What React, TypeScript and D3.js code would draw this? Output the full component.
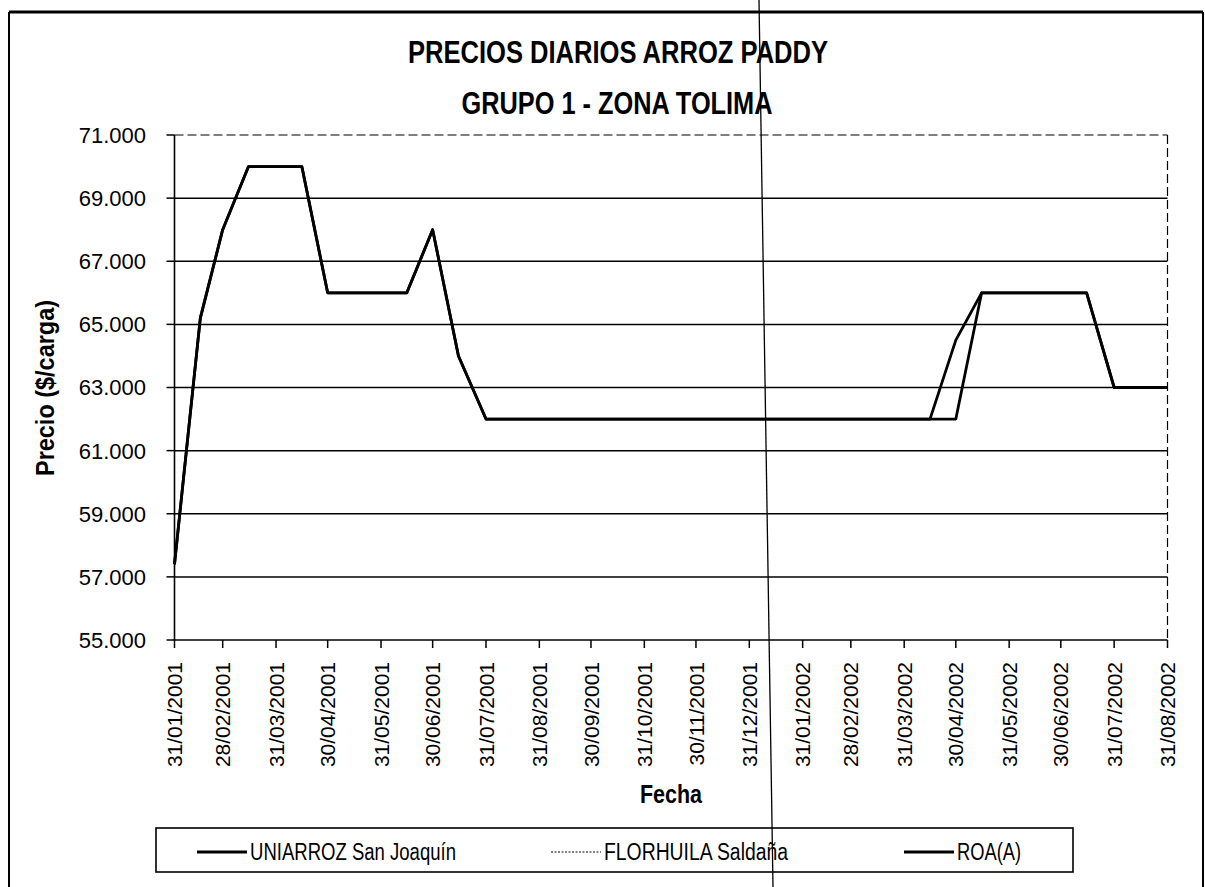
import React from "react";
import * as d3 from "d3";

// ---------- data ----------
const TITLE_LINE_1 = "PRECIOS DIARIOS ARROZ PADDY";
const TITLE_LINE_2 = "GRUPO 1 - ZONA TOLIMA";
const X_TITLE = "Fecha";
const Y_TITLE = "Precio ($/carga)";

const obsDates = [
  "31/01/2001", "15/02/2001", "28/02/2001", "15/03/2001", "15/04/2001",
  "30/04/2001", "15/06/2001", "30/06/2001", "15/07/2001", "31/07/2001",
  "15/04/2002", "30/04/2002", "15/05/2002", "15/07/2002", "31/07/2002",
  "31/08/2002",
];
const uniarroz = [57400, 65200, 68000, 70000, 70000, 66000, 66000, 68000, 64000, 62000, 62000, 64500, 66000, 66000, 63000, 63000];
const florhuila = [57400, 65200, 68000, 70000, 70000, 66000, 66000, 68000, 64000, 62000, 62000, 62000, 66000, 66000, 63000, 63000];
const roa = [57400, 65200, 68000, 70000, 70000, 66000, 66000, 68000, 64000, 62000, 62000, 62000, 66000, 66000, 63000, 63000];

const seriesNames = ["UNIARROZ San Joaquín", "FLORHUILA Saldaña", "ROA(A)"];

const xTickLabels = [
  "31/01/2001", "28/02/2001", "31/03/2001", "30/04/2001", "31/05/2001",
  "30/06/2001", "31/07/2001", "31/08/2001", "30/09/2001", "31/10/2001",
  "30/11/2001", "31/12/2001", "31/01/2002", "28/02/2002", "31/03/2002",
  "30/04/2002", "31/05/2002", "30/06/2002", "31/07/2002", "31/08/2002",
];
const yTicks = [55000, 57000, 59000, 61000, 63000, 65000, 67000, 69000, 71000];

// ---------- layout ----------
const W = 1205;
const H = 887;
const PL = 174.5, PR = 1167.5, PT = 135, PB = 640;

const parse = d3.timeParse("%d/%m/%Y");
const locale = d3.formatLocale({ decimal: ",", thousands: ".", grouping: [3], currency: ["$", ""] });
const fmt = locale.format(",d");

export default function App() {
  const x = d3
    .scaleTime()
    .domain([parse(xTickLabels[0]) as Date, parse(xTickLabels[xTickLabels.length - 1]) as Date])
    .range([PL, PR]);
  const y = d3.scaleLinear().domain([55000, 71000]).range([PB, PT]);

  const line = d3
    .line<[Date, number]>()
    .x((d) => x(d[0]))
    .y((d) => y(d[1]));

  const mk = (vals: number[]) => obsDates.map((s, i) => [parse(s) as Date, vals[i]] as [Date, number]);

  const series = [
    { name: seriesNames[0], values: uniarroz, width: 2.8, dash: undefined as string | undefined },
    { name: seriesNames[1], values: florhuila, width: 1.2, dash: "2 1.5" },
    { name: seriesNames[2], values: roa, width: 2.8, dash: undefined as string | undefined },
  ];
  const drawOrder = [1, 2, 0];

  const legendX = [197, 551, 904];
  const legendTextLen = [206, 184, 64];
  const legendLineLen = 50;
  const legendY = 852;

  const sans = "'Liberation Sans', Arial, Helvetica, sans-serif";
  const narrow = "'Liberation Sans Narrow', 'Arial Narrow', 'Liberation Sans', Arial, sans-serif";

  return (
    <svg
      width={W}
      height={H}
      viewBox={`0 0 ${W} ${H}`}
      style={{ position: "absolute", left: 0, top: 0, background: "#fff" }}
    >
      <rect x={0} y={0} width={W} height={H} fill="#fff" />

      {/* chart frame */}
      <line x1={9} y1={12} x2={1203} y2={12} stroke="#000" strokeWidth={2.8} />
      <line x1={9} y1={12} x2={9} y2={H} stroke="#000" strokeWidth={2} />
      <line x1={1203} y1={12} x2={1203} y2={H} stroke="#000" strokeWidth={2} />

      {/* titles */}
      <text x={618} y={63} textAnchor="middle" fontFamily={narrow} fontWeight="bold" fontSize={31}
        textLength={420} lengthAdjust="spacingAndGlyphs">{TITLE_LINE_1}</text>
      <text x={617} y={114} textAnchor="middle" fontFamily={narrow} fontWeight="bold" fontSize={31}
        textLength={311} lengthAdjust="spacingAndGlyphs">{TITLE_LINE_2}</text>

      {/* gridlines */}
      {yTicks.filter((t) => t !== 55000 && t !== 71000).map((t) => (
        <line key={"g" + t} x1={PL} x2={PR} y1={y(t)} y2={y(t)} stroke="#000" strokeWidth={1.5} />
      ))}
      {/* plot area border (top & right) */}
      <line x1={PL} x2={PR} y1={y(71000)} y2={y(71000)} stroke="#000" strokeWidth={1.2} strokeDasharray="9 4" />
      <line x1={PR} x2={PR} y1={PT} y2={PB} stroke="#000" strokeWidth={1.2} strokeDasharray="9 4" />

      {/* y axis */}
      <line x1={PL} x2={PL} y1={PT} y2={PB} stroke="#000" strokeWidth={1.6} />
      {yTicks.map((t) => (
        <g key={"yt" + t}>
          <line x1={PL - 8} x2={PL} y1={y(t)} y2={y(t)} stroke="#000" strokeWidth={1.5} />
          <text x={146} y={y(t)} dy="0.36em" textAnchor="end" fontFamily={sans} fontSize={22}>
            {fmt(t)}
          </text>
        </g>
      ))}

      {/* x axis */}
      <line x1={PL} x2={PR} y1={PB} y2={PB} stroke="#000" strokeWidth={1.6} />
      {xTickLabels.map((s) => {
        const xp = x(parse(s) as Date);
        return (
          <g key={"xt" + s}>
            <line x1={xp} x2={xp} y1={PB} y2={PB + 8} stroke="#000" strokeWidth={1.5} />
            <text
              transform={`translate(${xp},${662}) rotate(-90)`}
              dy="0.36em"
              textAnchor="end"
              fontFamily={sans}
              fontSize={21}
            >
              {s}
            </text>
          </g>
        );
      })}

      {/* axis titles */}
      <text x={671} y={803} textAnchor="middle" fontFamily={narrow} fontWeight="bold" fontSize={25}
        textLength={62} lengthAdjust="spacingAndGlyphs">{X_TITLE}</text>
      <text transform={`translate(${54},${388}) rotate(-90)`} textAnchor="middle" fontFamily={narrow}
        fontWeight="bold" fontSize={25} textLength={176} lengthAdjust="spacingAndGlyphs">{Y_TITLE}</text>

      {/* series */}
      {drawOrder.map((i) => {
        const s = series[i];
        return (
          <path
            key={"s" + i}
            d={line(mk(s.values)) || ""}
            fill="none"
            stroke="#000"
            strokeWidth={s.width}
            strokeDasharray={s.dash}
            strokeLinejoin="round"
          />
        );
      })}

      {/* legend */}
      <rect x={156} y={828} width={1073 - 156} height={44} fill="#fff" stroke="#000" strokeWidth={1.6} />
      {series.map((s, i) => (
        <g key={"lg" + i}>
          <line
            x1={legendX[i]}
            x2={legendX[i] + legendLineLen}
            y1={legendY}
            y2={legendY}
            stroke="#000"
            strokeWidth={s.width}
            strokeDasharray={s.dash}
          />
          <text x={legendX[i] + legendLineLen + 3} y={860} fontFamily={narrow} fontSize={23}
            textLength={legendTextLen[i]} lengthAdjust="spacingAndGlyphs">
            {s.name}
          </text>
        </g>
      ))}

      {/* scan fold line */}
      <line x1={759} y1={0} x2={773} y2={H} stroke="#000" strokeWidth={1.3} />
    </svg>
  );
}
